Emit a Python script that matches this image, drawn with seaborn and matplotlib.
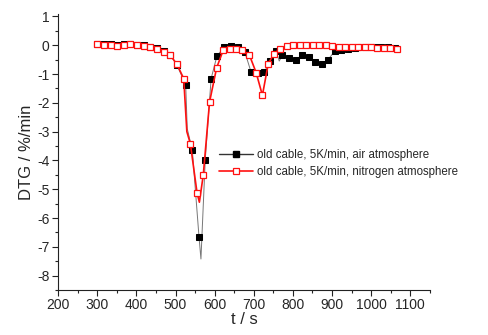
import numpy as np
import pandas as pd
import matplotlib
matplotlib.use("Agg")
import matplotlib.pyplot as plt
from matplotlib.lines import Line2D
from matplotlib.ticker import MultipleLocator
import seaborn as sns

# ---- data ----
# nitrogen atmosphere: line points and marker points
n2_line_t = [300, 317, 334, 351, 368, 385, 402, 419, 436, 453, 470, 487, 504, 521, 529, 538, 555, 561, 571, 587,
             605, 622, 638, 655, 671, 689, 706, 722, 737, 752, 768, 785, 801, 818, 834, 851, 867, 884, 900,
             917, 933, 950, 966, 983, 999, 1016, 1032, 1049, 1066]
n2_line_v = [0.05, 0.02, 0.0, -0.03, 0.0, 0.03, 0.0, -0.02, -0.08, -0.14, -0.22, -0.35, -0.67, -1.16, -3.0, -3.42,
             -5.12, -5.45, -4.5, -1.97, -0.79, -0.17, -0.14, -0.14, -0.17, -0.35, -0.95, -1.74, -0.64, -0.29,
             -0.12, -0.03, 0.0, 0.0, 0.0, 0.0, 0.02, 0.0, -0.03, -0.05, -0.06, -0.07, -0.08, -0.08, -0.08,
             -0.09, -0.1, -0.11, -0.12]
n2_extra_t = [529, 561]  # line-only points (no marker)

# air atmosphere: marker points and extra line-only points
air_mark_t = [300, 317, 334, 351, 368, 385, 402, 419, 436, 453, 470, 487, 504, 526, 543, 560, 576, 591, 606,
              625, 642, 659, 677, 693, 710, 727, 742, 757, 773, 790, 807, 824, 841, 856, 873, 890, 907, 924,
              941, 958, 975, 992, 1009, 1026, 1043, 1060]
air_mark_v = [0.05, 0.05, 0.05, 0.02, 0.05, 0.03, 0.02, 0.0, -0.05, -0.1, -0.2, -0.35, -0.7, -1.37, -3.65,
              -6.64, -3.97, -1.16, -0.37, -0.06, -0.03, -0.05, -0.23, -0.93, -0.96, -0.93, -0.55, -0.2, -0.35,
              -0.43, -0.5, -0.35, -0.41, -0.58, -0.66, -0.5, -0.2, -0.15, -0.12, -0.1, -0.08, -0.05, -0.05,
              -0.07, -0.08, -0.1]
air_extra_t = [530, 565, 765]
air_extra_v = [-2.9, -7.42, -0.55]

labels = ["old cable, 5K/min, air atmosphere", "old cable, 5K/min, nitrogen atmosphere"]
x_ticks = list(range(200, 1101, 100))
y_ticks = list(range(-8, 2))

# ---- build frames ----
air_line = pd.concat([
    pd.DataFrame({"t": air_mark_t, "v": air_mark_v}),
    pd.DataFrame({"t": air_extra_t, "v": air_extra_v}),
]).sort_values("t")
air_mark = pd.DataFrame({"t": air_mark_t, "v": air_mark_v})
n2_line = pd.DataFrame({"t": n2_line_t, "v": n2_line_v})
n2_mark = n2_line[~n2_line["t"].isin(n2_extra_t)]

sns.set_style("ticks")
plt.rcParams["font.family"] = ["Liberation Sans", "DejaVu Sans"]
plt.rcParams["axes.unicode_minus"] = False

fig = plt.figure(figsize=(4.88, 3.35), dpi=100)
ax = fig.add_axes([0.119, 0.134, 0.762, 0.824])

red_c = "#ff1010"

sns.lineplot(data=air_line, x="t", y="v", ax=ax, color="#777777", lw=0.7, sort=False, estimator=None)
sns.lineplot(data=air_mark, x="t", y="v", ax=ax, color="black", lw=0, marker="s", markersize=4.2,
             markeredgecolor="black", markerfacecolor="black", sort=False, estimator=None)
sns.lineplot(data=n2_line, x="t", y="v", ax=ax, color=red_c, lw=1.2, sort=False, estimator=None)
sns.lineplot(data=n2_mark, x="t", y="v", ax=ax, color=red_c, lw=0, marker="s", markersize=4.6,
             markeredgecolor=red_c, markerfacecolor="white", markeredgewidth=0.9, sort=False, estimator=None)

ax.set_xlim(200, 1150)
ax.set_ylim(-8.5, 1.08)
ax.set_xticks(x_ticks)
ax.set_yticks(y_ticks)
ax.xaxis.set_minor_locator(MultipleLocator(50))
ax.yaxis.set_minor_locator(MultipleLocator(0.5))
ax.tick_params(which="major", direction="out", length=4, width=0.8, labelsize=10, pad=2, color="#222")
ax.tick_params(which="minor", direction="out", length=2.5, width=0.8, color="#222")
sns.despine(ax=ax)
for s in ["left", "bottom"]:
    ax.spines[s].set_linewidth(0.8)
    ax.spines[s].set_color("#222")

ax.set_xlabel("t / s", fontsize=12, labelpad=0)
ax.set_ylabel("DTG / %/min", fontsize=12, labelpad=2)

handles = [
    Line2D([], [], color="#333333", lw=1.0, marker="s", markersize=4.5, markerfacecolor="black",
           markeredgecolor="black"),
    Line2D([], [], color=red_c, lw=1.2, marker="s", markersize=5, markerfacecolor="white",
           markeredgecolor=red_c, markeredgewidth=0.9),
]
ax.legend(handles, labels, loc="center left", bbox_to_anchor=(0.42, 0.458), frameon=False,
          fontsize=8.3, handlelength=3.0, handletextpad=0.3, labelspacing=0.4, borderaxespad=0)

fig.savefig("out.png", dpi=100)
